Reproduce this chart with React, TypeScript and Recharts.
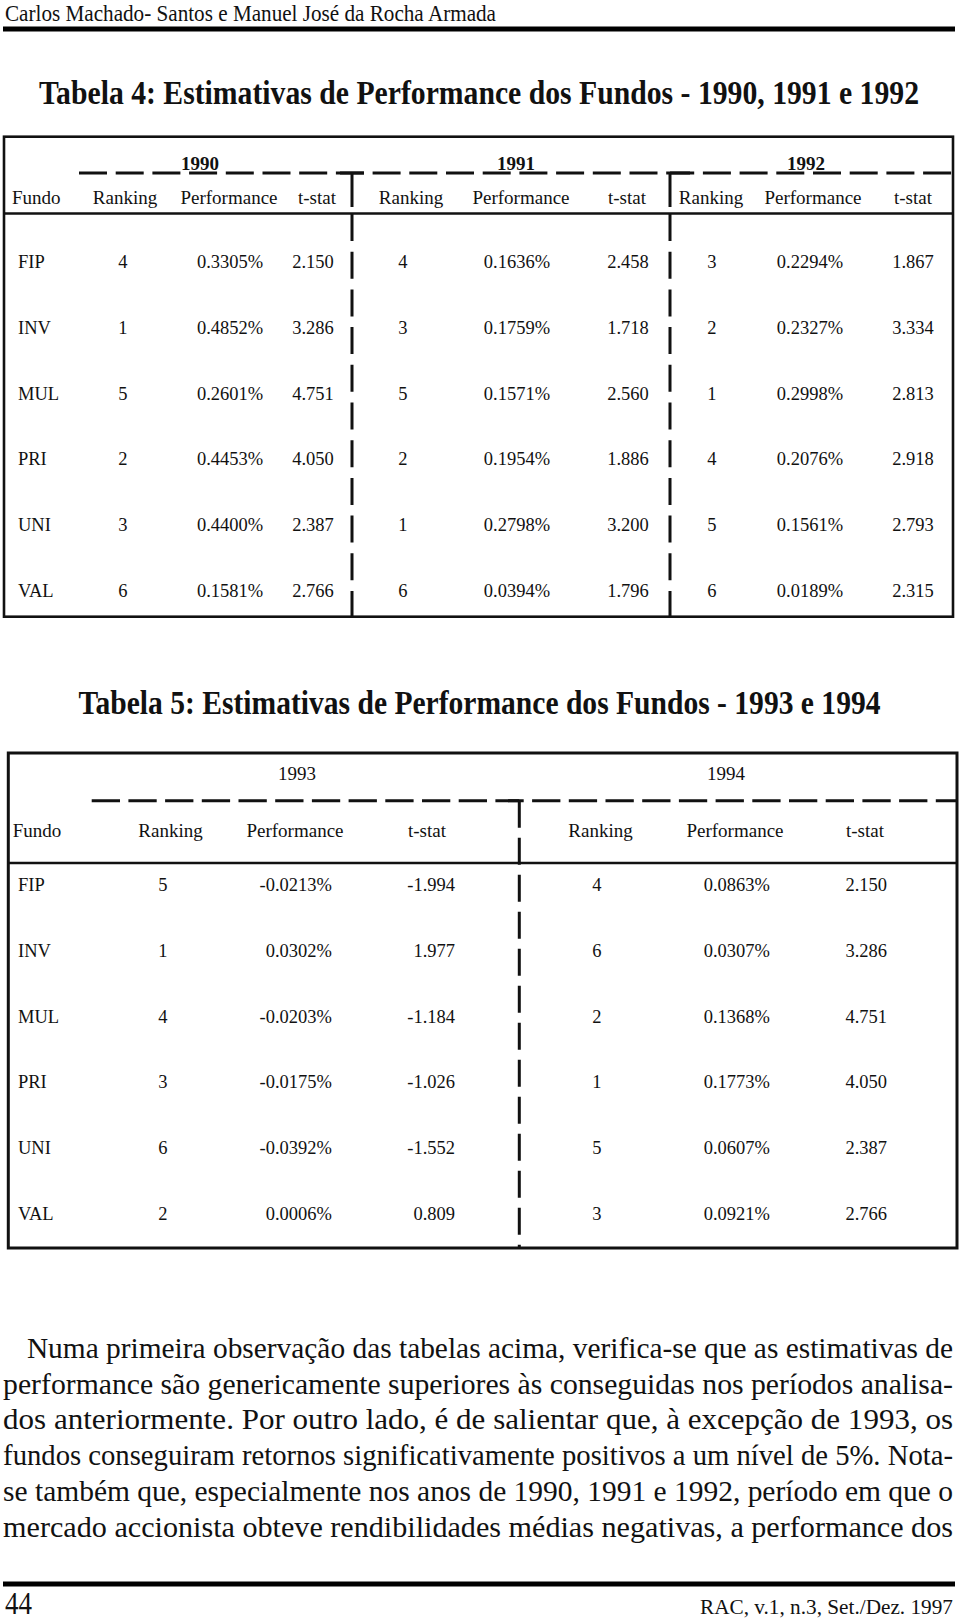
import React from "react";
import { ScatterChart, Scatter, XAxis, YAxis } from "recharts";

// ---------- DATA ----------
const funds = ["FIP", "INV", "MUL", "PRI", "UNI", "VAL"];

const years4 = ["1990", "1991", "1992"];
const rank1990 = [4, 1, 5, 2, 3, 6];
const perf1990 = [0.3305, 0.4852, 0.2601, 0.4453, 0.44, 0.1581];
const tstat1990 = [2.15, 3.286, 4.751, 4.05, 2.387, 2.766];
const rank1991 = [4, 3, 5, 2, 1, 6];
const perf1991 = [0.1636, 0.1759, 0.1571, 0.1954, 0.2798, 0.0394];
const tstat1991 = [2.458, 1.718, 2.56, 1.886, 3.2, 1.796];
const rank1992 = [3, 2, 1, 4, 5, 6];
const perf1992 = [0.2294, 0.2327, 0.2998, 0.2076, 0.1561, 0.0189];
const tstat1992 = [1.867, 3.334, 2.813, 2.918, 2.793, 2.315];

const years5 = ["1993", "1994"];
const rank1993 = [5, 1, 4, 3, 6, 2];
const perf1993 = [-0.0213, 0.0302, -0.0203, -0.0175, -0.0392, 0.0006];
const tstat1993 = [-1.994, 1.977, -1.184, -1.026, -1.552, 0.809];
const rank1994 = [4, 6, 2, 1, 5, 3];
const perf1994 = [0.0863, 0.0307, 0.1368, 0.1773, 0.0607, 0.0921];
const tstat1994 = [2.15, 3.286, 4.751, 4.05, 2.387, 2.766];

const colHeads = ["Ranking", "Performance", "t-stat"];

const headerText = "Carlos Machado- Santos e Manuel José da Rocha Armada";
const title4 = "Tabela 4: Estimativas de Performance dos Fundos - 1990, 1991 e 1992";
const title5 = "Tabela 5: Estimativas de Performance dos Fundos - 1993 e 1994";
const paragraph = [
  "Numa primeira observação das tabelas acima, verifica-se que as estimativas de",
  "performance são genericamente superiores às conseguidas nos períodos analisa-",
  "dos anteriormente. Por outro lado, é de salientar que, à excepção de 1993, os",
  "fundos conseguiram retornos significativamente positivos a um nível de 5%. Nota-",
  "se também que, especialmente nos anos de 1990, 1991 e 1992, período em que o",
  "mercado accionista obteve rendibilidades médias negativas, a performance dos",
];
const pageNumber = "44";
const footerRef = "RAC, v.1, n.3, Set./Dez. 1997";

// ---------- LAYOUT ----------
const FONT = "'Liberation Serif', 'Times New Roman', serif";
const fmtPerf = (v: number) => v.toFixed(4) + "%";
const fmtT = (v: number) => v.toFixed(3);
const fmtR = (v: number) => String(v);

type Col = { x: number; anchor: "start" | "middle" | "end"; values: string[] };

const cols4: Col[] = [
  { x: 18, anchor: "start", values: funds },
  { x: 123, anchor: "middle", values: rank1990.map(fmtR) },
  { x: 230, anchor: "middle", values: perf1990.map(fmtPerf) },
  { x: 313, anchor: "middle", values: tstat1990.map(fmtT) },
  { x: 403, anchor: "middle", values: rank1991.map(fmtR) },
  { x: 517, anchor: "middle", values: perf1991.map(fmtPerf) },
  { x: 628, anchor: "middle", values: tstat1991.map(fmtT) },
  { x: 712, anchor: "middle", values: rank1992.map(fmtR) },
  { x: 810, anchor: "middle", values: perf1992.map(fmtPerf) },
  { x: 913, anchor: "middle", values: tstat1992.map(fmtT) },
];

const cols5: Col[] = [
  { x: 18, anchor: "start", values: funds },
  { x: 163, anchor: "middle", values: rank1993.map(fmtR) },
  { x: 332, anchor: "end", values: perf1993.map(fmtPerf) },
  { x: 455, anchor: "end", values: tstat1993.map(fmtT) },
  { x: 597, anchor: "middle", values: rank1994.map(fmtR) },
  { x: 770, anchor: "end", values: perf1994.map(fmtPerf) },
  { x: 887, anchor: "end", values: tstat1994.map(fmtT) },
];

const CellText = (props: any) => {
  const { cx, cy, payload } = props;
  if (cx == null || cy == null) return null;
  return (
    <text
      x={cx}
      y={cy + 6.3}
      textAnchor={payload.anchor}
      fontFamily={FONT}
      fontSize={18.5}
      fill="#111"
    >
      {payload.label}
    </text>
  );
};

function TableChart({ cols, top }: { cols: Col[]; top: number }) {
  const H = 394.4;
  return (
    <div style={{ position: "absolute", left: 0, top }}>
      <ScatterChart width={960} height={H} margin={{ top: 0, right: 0, bottom: 0, left: 0 }}>
        <XAxis type="number" dataKey="x" domain={[0, 960]} hide allowDataOverflow />
        <YAxis type="number" dataKey="r" domain={[-0.5, 5.5]} reversed hide allowDataOverflow />
        {cols.map((c, j) => (
          <Scatter
            key={j}
            data={c.values.map((v, i) => ({ x: c.x, r: i, label: v, anchor: c.anchor }))}
            shape={CellText}
            isAnimationActive={false}
          />
        ))}
      </ScatterChart>
    </div>
  );
}

const T = (p: any) => <text fontFamily={FONT} fill="#111" {...p} />;

// condensed bold title: narrow font size stretched vertically
const Title = ({ x, y, width, children }: any) => (
  <g transform={`translate(${x},${y}) scale(1,1.38)`}>
    <text
      x={0}
      y={0}
      fontFamily={FONT}
      fontSize={25}
      fontWeight="bold"
      fill="#111"
      textLength={width}
      lengthAdjust="spacingAndGlyphs"
    >
      {children}
    </text>
  </g>
);

export default function App() {
  const head4X = [125, 229, 317, 411, 521, 627, 711, 813, 913];
  const year4X = [200, 516, 806];
  const head5X = [170.5, 295, 427, 600.5, 735, 865];
  const year5X = [297, 726];
  return (
    <div style={{ position: "absolute", left: 0, top: 0, width: 960, height: 1621, background: "#fff", overflow: "hidden" }}>
      <svg width={960} height={1621} style={{ position: "absolute", left: 0, top: 0 }}>
        {/* running header */}
        <T x={5} y={20.5} fontSize={23} textLength={491} lengthAdjust="spacingAndGlyphs">{headerText}</T>
        <rect x={3} y={26.5} width={952} height={5} fill="#000" />

        {/* Table 4 */}
        <Title x={39} y={103.5} width={880}>{title4}</Title>
        <rect x={4} y={136.7} width={949} height={480} fill="none" stroke="#111" strokeWidth={2.6} />
        <line x1={79} y1={173} x2={953} y2={173} stroke="#111" strokeWidth={3} strokeDasharray="28 8.7" />
        <line x1={340} y1={173} x2={364} y2={173} stroke="#111" strokeWidth={3} />
        <line x1={670} y1={173} x2={690} y2={173} stroke="#111" strokeWidth={3} />
        {[352, 670].map((x) => (
          <g key={x}>
            <line x1={x} y1={173} x2={x} y2={207} stroke="#111" strokeWidth={3} />
            <line x1={x} y1={214} x2={x} y2={616.7} stroke="#111" strokeWidth={3} strokeDasharray="27 10.7" />
          </g>
        ))}
        <line x1={4} y1={213.5} x2={953} y2={213.5} stroke="#111" strokeWidth={2.6} />
        {years4.map((y, i) => (
          <T key={y} x={year4X[i]} y={170} fontSize={19} fontWeight="bold" textAnchor="middle">{y}</T>
        ))}
        <T x={12} y={203.5} fontSize={19}>Fundo</T>
        {head4X.map((x, i) => (
          <T key={i} x={x} y={203.5} fontSize={19} textAnchor="middle">{colHeads[i % 3]}</T>
        ))}

        {/* Table 5 */}
        <Title x={78.5} y={713.5} width={802}>{title5}</Title>
        <rect x={8.3} y={753} width={948.7} height={495} fill="none" stroke="#111" strokeWidth={3} />
        {years5.map((y, i) => (
          <T key={y} x={year5X[i]} y={779.5} fontSize={19} textAnchor="middle">{y}</T>
        ))}
        <line x1={91.7} y1={800.7} x2={957} y2={800.7} stroke="#111" strokeWidth={3} strokeDasharray="28.3 8.4" />
        <line x1={508} y1={800.7} x2={519.3} y2={800.7} stroke="#111" strokeWidth={3} />
        <line x1={519.3} y1={800.7} x2={519.3} y2={1248} stroke="#111" strokeWidth={3} strokeDasharray="27 10" />
        <line x1={8.3} y1={863} x2={957} y2={863} stroke="#111" strokeWidth={2.6} />
        <T x={12.7} y={836.5} fontSize={19}>Fundo</T>
        {head5X.map((x, i) => (
          <T key={i} x={x} y={836.5} fontSize={19} textAnchor="middle">{colHeads[i % 3]}</T>
        ))}

        {/* paragraph */}
        {paragraph.map((line, i) => {
          const tops = [1357.5, 1393.5, 1429, 1465, 1501, 1537];
          const x0 = i === 0 ? 26.9 : 3.1;
          return (
            <T key={i} x={x0} y={tops[i]} fontSize={28.5} textLength={953 - x0} lengthAdjust="spacingAndGlyphs">{line}</T>
          );
        })}

        {/* footer */}
        <rect x={3} y={1581.5} width={952} height={5} fill="#000" />
        <T x={5} y={1614} fontSize={32} textLength={27} lengthAdjust="spacingAndGlyphs">{pageNumber}</T>
        <T x={953} y={1614} fontSize={21} textAnchor="end" textLength={253} lengthAdjust="spacingAndGlyphs">{footerRef}</T>
      </svg>
      <TableChart cols={cols4} top={228.5} />
      <TableChart cols={cols5} top={851.7} />
    </div>
  );
}
